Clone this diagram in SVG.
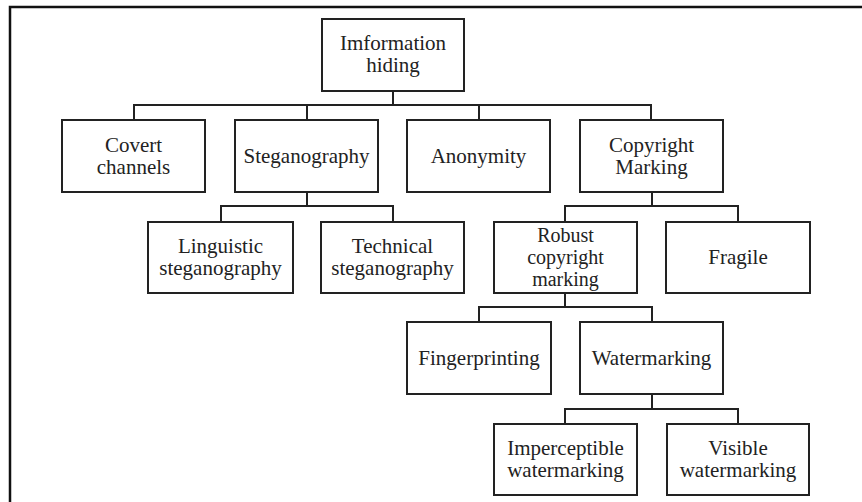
<svg xmlns="http://www.w3.org/2000/svg" width="862" height="502" viewBox="0 0 862 502">
<style>
.box{fill:#fff;stroke:#222;stroke-width:2}
.t{font-family:"Liberation Serif","Times New Roman",serif;font-size:21px;fill:#222;text-anchor:middle}
.s{font-size:20px}
.c{fill:none;stroke:#222;stroke-width:2}
.frame{fill:none;stroke:#111;stroke-width:2.5}
</style>
<rect width="862" height="502" fill="#fff"/>
<path class="frame" d="M10,502 V7 H862"/>
<g id="connectors">
<path class="c" d="M393,91 V105 M134,120 V105 H651 V120 M307,105 V120 M479,105 V120"/>
<path class="c" d="M307,192 V206 M221,222 V206 H393 V222"/>
<path class="c" d="M652,192 V206 M565,222 V206 H738 V222"/>
<path class="c" d="M565,293 V307 M479,322 V307 H652 V322"/>
<path class="c" d="M652,394 V409 M565,424 V409 H738 V424"/>
</g>
<g id="information-hiding"><rect class="box" x="322" y="19" width="142" height="72"/><text class="t" x="393" y="50">Imformation</text><text class="t" x="393" y="72">hiding</text></g>
<g id="covert-channels"><rect class="box" x="62" y="120" width="143" height="72"/><text class="t" x="133.5" y="152">Covert</text><text class="t" x="133.5" y="174">channels</text></g>
<g id="steganography"><rect class="box" x="235" y="120" width="143" height="72"/><text class="t" x="306.5" y="163">Steganography</text></g>
<g id="anonymity"><rect class="box" x="407" y="120" width="143" height="72"/><text class="t" x="478.5" y="163">Anonymity</text></g>
<g id="copyright-marking"><rect class="box" x="580" y="120" width="143" height="72"/><text class="t" x="651.5" y="152">Copyright</text><text class="t" x="651.5" y="174">Marking</text></g>
<g id="linguistic"><rect class="box" x="148" y="222" width="145" height="71"/><text class="t" x="220.5" y="253">Linguistic</text><text class="t" x="220.5" y="275">steganography</text></g>
<g id="technical"><rect class="box" x="321" y="222" width="143" height="71"/><text class="t" x="392.5" y="253">Technical</text><text class="t" x="392.5" y="275">steganography</text></g>
<g id="robust"><rect class="box" x="494" y="222" width="143" height="71"/><text class="t s" x="565.5" y="242">Robust</text><text class="t s" x="565.5" y="263.5">copyright</text><text class="t s" x="565.5" y="285.5">marking</text></g>
<g id="fragile"><rect class="box" x="666" y="222" width="144" height="71"/><text class="t" x="738" y="264">Fragile</text></g>
<g id="fingerprinting"><rect class="box" x="407" y="322" width="144" height="72"/><text class="t" x="479" y="365">Fingerprinting</text></g>
<g id="watermarking"><rect class="box" x="580" y="322" width="143" height="72"/><text class="t" x="651.5" y="365">Watermarking</text></g>
<g id="imperceptible"><rect class="box" x="494" y="424" width="143" height="71"/><text class="t" x="565.5" y="455">Imperceptible</text><text class="t" x="565.5" y="477">watermarking</text></g>
<g id="visible"><rect class="box" x="667" y="424" width="142" height="71"/><text class="t" x="738" y="455">Visible</text><text class="t" x="738" y="477">watermarking</text></g>
</svg>
